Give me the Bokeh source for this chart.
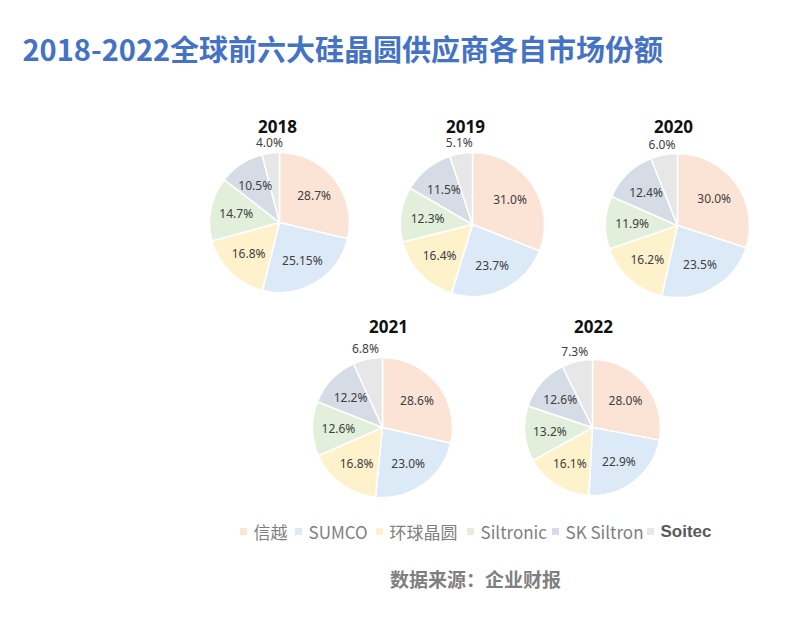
import math
from bokeh.plotting import figure
from bokeh.models import Range1d, ColumnDataSource
from bokeh.core.properties import value
from bokeh.embed import file_html
from bokeh.resources import INLINE

# data
years = ["2018", "2019", "2020", "2021", "2022"]
companies = ["信越", "SUMCO", "环球晶圆", "Siltronic", "SK Siltron", "Soitec"]
share_2018 = [28.7, 25.15, 16.8, 14.7, 10.5, 4.0]
share_2019 = [31.0, 23.7, 16.4, 12.3, 11.5, 5.1]
share_2020 = [30.0, 23.5, 16.2, 11.9, 12.4, 6.0]
share_2021 = [28.6, 23.0, 16.8, 12.6, 12.2, 6.8]
share_2022 = [28.0, 22.9, 16.1, 13.2, 12.6, 7.3]
shares = [share_2018, share_2019, share_2020, share_2021, share_2022]
colors = ["#FBE3D6", "#DCE9F6", "#FEF2CC", "#E2EFDA", "#D6DCE5", "#E8E7E7"]

W, H = 769, 609
PAGE_H = 625


def py(y):
    # page y (from top) -> data y
    return PAGE_H - y


p = figure(width=W, height=H, output_backend="svg", toolbar_location=None,
           x_range=Range1d(0, W), y_range=Range1d(PAGE_H - H, PAGE_H),
           x_axis_location=None, y_axis_location=None, min_border=0)
p.grid.visible = False
p.outline_line_color = None
p.background_fill_color = "white"

# layout of the pies (page pixels)
centers = [(279, 222), (472, 224), (677, 225), (382, 427), (592, 427)]
radii = [70, 72, 72, 70, 68]
title_pos = [(277, 126), (465, 126), (673, 126), (388, 326), (593, 326)]

for yr, vals, (cx, cy), r, (tx, ty) in zip(years, shares, centers, radii, title_pos):
    total = sum(vals)
    starts, ends, lx, ly, txt = [], [], [], [], []
    acc = 0.0
    for i, v in enumerate(vals):
        a0 = math.pi / 2 - 2 * math.pi * acc / total
        acc += v
        a1 = math.pi / 2 - 2 * math.pi * acc / total
        starts.append(a0)
        ends.append(a1)
        mid = (a0 + a1) / 2
        k = 1.15 if i == len(vals) - 1 else 0.63
        lx.append(cx + k * r * math.cos(mid))
        ly.append(py(cy) + k * r * math.sin(mid))
        txt.append(f"{v:.2f}%" if yr == "2018" and i == 1 else f"{v:.1f}%")
    src = ColumnDataSource(dict(start=starts, end=ends, color=colors, lx=lx, ly=ly, txt=txt))
    p.wedge(x=cx, y=py(cy), radius=r, start_angle="start", end_angle="end",
            direction="clock", fill_color="color", line_color="white",
            line_width=1.5, source=src)
    p.text(x="lx", y="ly", text="txt", source=src, text_align="center",
           text_baseline="middle", text_font=value("Noto Sans"),
           text_font_size="12px", text_color="#404040")
    p.text(x=[tx], y=[py(ty)], text=[yr], text_align="center", text_baseline="middle",
           text_font=value("Noto Sans"), text_font_style="bold",
           text_font_size="17px", text_color="#111111")

# title
p.text(x=[22], y=[py(47)], text=["2018-2022全球前六大硅晶圆供应商各自市场份额"],
       text_align="left", text_baseline="middle",
       text_font=value("Noto Sans CJK SC"), text_font_style="bold",
       text_font_size="29px", text_color="#4472C4")

# legend
marker_x = [243, 298, 379, 470, 555, 650]
leg_y = 531
p.scatter(x=marker_x, y=[py(leg_y)] * 6, marker="square", size=7,
          fill_color=colors, line_color=None)
leg_colors = ["#7F7F7F"] * 5 + ["#595959"]
leg_fonts = ["Noto Sans CJK SC"] * 5 + ["Liberation Sans"]
for mx, name, c, f in zip(marker_x, companies, leg_colors, leg_fonts):
    p.text(x=[mx + 10], y=[py(leg_y)], text=[name], text_align="left",
           text_baseline="middle", text_font=value(f),
           text_font_style="bold" if f == "Liberation Sans" else "normal",
           text_font_size="17px", text_color=c)

# source note
p.text(x=[475], y=[py(578)], text=["数据来源：企业财报"], text_align="center",
       text_baseline="middle", text_font=value("Noto Sans CJK SC"),
       text_font_style="bold", text_font_size="19px", text_color="#7F7F7F")

open("out.html", "w").write(file_html(p, INLINE))
